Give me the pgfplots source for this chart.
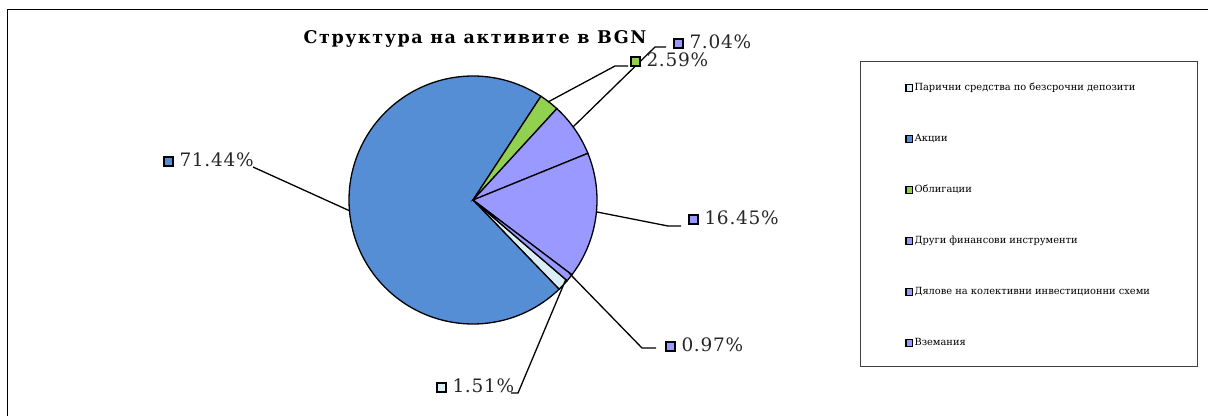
\documentclass[border=0pt]{standalone}
\usepackage{pgfplots}
\pgfplotsset{compat=1.18}
\usepackage{pgfplotstable}
\usepackage{fontspec}
\setmainfont{DejaVu Serif}
\newfontfamily\titlefont[LetterSpace=9]{DejaVu Serif}
\newfontfamily\labelfont[LetterSpace=4]{DejaVu Serif}
\definecolor{cCash}{HTML}{DAEEF3}
\definecolor{cShares}{HTML}{558ED5}
\definecolor{cBonds}{HTML}{92D050}
\definecolor{cViolet}{HTML}{9999FF}

\pgfplotstableread{
idx value
0 1.51
1 71.44
2 2.59
3 7.04
4 16.45
5 0.97
}\piedata

\setlength{\fboxsep}{0pt}
\setlength{\fboxrule}{1.4bp}
\newcommand{\pielabel}[2]{\raisebox{1.5bp}{\fcolorbox{black}{#1}{\rule{0pt}{7.5bp}\rule{7.5bp}{0pt}}}\hspace{6bp}#2}

\begin{document}
\begin{tikzpicture}
\pgfmathsetmacro\aO{-40.6}
\pgfplotstablegetelem{0}{value}\of\piedata \pgfmathsetmacro\aA{\aO-3.6*\pgfplotsretval}
\pgfplotstablegetelem{1}{value}\of\piedata \pgfmathsetmacro\aB{\aA-3.6*\pgfplotsretval}
\pgfplotstablegetelem{2}{value}\of\piedata \pgfmathsetmacro\aC{\aB-3.6*\pgfplotsretval}
\pgfplotstablegetelem{3}{value}\of\piedata \pgfmathsetmacro\aD{\aC-3.6*\pgfplotsretval}
\pgfplotstablegetelem{4}{value}\of\piedata \pgfmathsetmacro\aE{\aD-3.6*\pgfplotsretval}
\pgfplotstablegetelem{5}{value}\of\piedata \pgfmathsetmacro\aF{\aE-3.6*\pgfplotsretval}
\begin{axis}[
  at={(0,0)}, anchor=south west,
  scale only axis, width=1208bp, height=416bp,
  xmin=0, xmax=1208, ymin=0, ymax=416,
  hide axis, clip=false,
  legend cell align=left,
  legend style={draw=none, fill=none, inner sep=0pt,
    at={(axis cs:905,332.5)}, anchor=north west,
    row sep=42bp, column sep=1.5bp,
    nodes={inner sep=0pt, text height=7bp, text depth=2bp,
      font=\fontsize{9.85bp}{10bp}\selectfont}},
  legend image code/.code={\draw[#1, line width=1.3bp] (0.5bp,-3bp) rectangle (7bp,3.5bp);},
]
\addplot[fill=cCash, draw=black, line width=1.3bp, domain=\aA:\aO, samples=10, variable=\t]
  ({473+124*cos(t)},{216+124*sin(t)}) -- (axis cs:473,216) -- cycle;
\addlegendentry{Парични средства по безсрочни депозити}
\addplot[fill=cShares, draw=black, line width=1.3bp, domain=\aB:\aA, samples=150, variable=\t]
  ({473+124*cos(t)},{216+124*sin(t)}) -- (axis cs:473,216) -- cycle;
\addlegendentry{Акции}
\addplot[fill=cBonds, draw=black, line width=1.3bp, domain=\aC:\aB, samples=10, variable=\t]
  ({473+124*cos(t)},{216+124*sin(t)}) -- (axis cs:473,216) -- cycle;
\addlegendentry{Облигации}
\addplot[fill=cViolet, draw=black, line width=1.3bp, domain=\aD:\aC, samples=20, variable=\t]
  ({473+124*cos(t)},{216+124*sin(t)}) -- (axis cs:473,216) -- cycle;
\addlegendentry{Други финансови инструменти}
\addplot[fill=cViolet, draw=black, line width=1.3bp, domain=\aE:\aD, samples=40, variable=\t]
  ({473+124*cos(t)},{216+124*sin(t)}) -- (axis cs:473,216) -- cycle;
\addlegendentry{Дялове на колективни инвестиционни схеми}
\addplot[fill=cViolet, draw=black, line width=1.3bp, domain=\aF:\aE, samples=10, variable=\t]
  ({473+124*cos(t)},{216+124*sin(t)}) -- (axis cs:473,216) -- cycle;
\addlegendentry{Вземания}

% frame
\draw[line width=1bp] (axis cs:7,0) -- (axis cs:7,406) -- (axis cs:1208,406);
% legend box
\draw[line width=1bp, black!75] (axis cs:860,354) rectangle (axis cs:1197,49);
% title
\node[font=\titlefont\bfseries\fontsize{17.5bp}{19bp}\selectfont] at (axis cs:475,377) {Структура на активите в BGN};
% leader lines
\draw[line width=1.3bp] (axis cs:253,249) -- (axis cs:350,205);
\draw[line width=1.3bp] (axis cs:548,314) -- (axis cs:615,350) -- (axis cs:628,350);
\draw[line width=1.3bp] (axis cs:573,289) -- (axis cs:655,369) -- (axis cs:666,369);
\draw[line width=1.3bp] (axis cs:597,204) -- (axis cs:668,190) -- (axis cs:681,190);
\draw[line width=1.3bp] (axis cs:569,143) -- (axis cs:642,68) -- (axis cs:656,68);
\draw[line width=1.3bp] (axis cs:566,137) -- (axis cs:518,23) -- (axis cs:511,23);
% labels
\begin{scope}[every node/.style={anchor=west, inner sep=0pt, font=\labelfont\fontsize{18.5bp}{20bp}\selectfont, text=black!85}]
\node at (axis cs:163,256) {\pielabel{cShares}{71.44\%}};
\node at (axis cs:630,356) {\pielabel{cBonds}{2.59\%}};
\node at (axis cs:673,374) {\pielabel{cViolet}{7.04\%}};
\node at (axis cs:688,198) {\pielabel{cViolet}{16.45\%}};
\node at (axis cs:665,71) {\pielabel{cViolet}{0.97\%}};
\node at (axis cs:436,30) {\pielabel{cCash}{1.51\%}};
\end{scope}
\end{axis}
\pgfresetboundingbox
\path (0,0) rectangle (1208bp,416bp);
\end{tikzpicture}
\end{document}
